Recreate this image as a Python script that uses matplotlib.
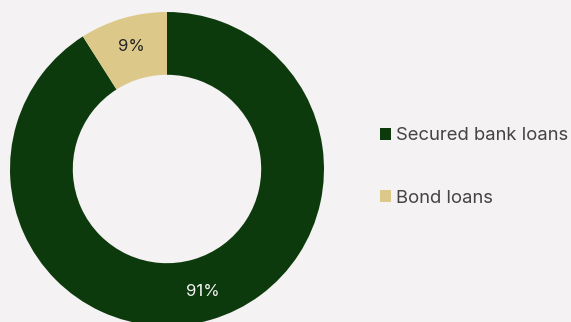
import matplotlib
matplotlib.use("Agg")
import matplotlib.pyplot as plt

categories = ["Secured bank loans", "Bond loans"]
values = [91, 9]
colors = ["#0d3a0c", "#dcc98a"]
label_colors = ["#f4f2f3", "#222222"]
bg = "#f4f2f3"

plt.rcParams['font.family'] = ['Inter', 'DejaVu Sans']

W, H = 571, 322
fig = plt.figure(figsize=(W/100, H/100), dpi=100, facecolor=bg)
cx, cy, r = 167, 169, 157
ax = fig.add_axes([(cx - r)/W, (H - cy - r)/H, 2*r/W, 2*r/H])
ax.set_facecolor(bg)

wedges, texts, autotexts = ax.pie(
    values, colors=colors, startangle=90, counterclock=False,
    radius=1.0, wedgeprops=dict(width=0.4, linewidth=0),
    autopct='%d%%', pctdistance=0.81,
    textprops=dict(fontsize=12))
for t, c in zip(autotexts, label_colors):
    t.set_color(c)
ax.set_xlim(-1, 1)
ax.set_ylim(-1, 1)
ax.set_aspect('equal')
ax.axis('off')

leg = fig.legend(wedges, categories, loc='center left',
                 bbox_to_anchor=(363/W, 1 - 167/H), frameon=False,
                 fontsize=13.3, labelcolor="#444444",
                 handlelength=0.6, handleheight=0.6, handletextpad=0.3,
                 labelspacing=2.45)

fig.savefig("out.png", dpi=100, facecolor=bg)
